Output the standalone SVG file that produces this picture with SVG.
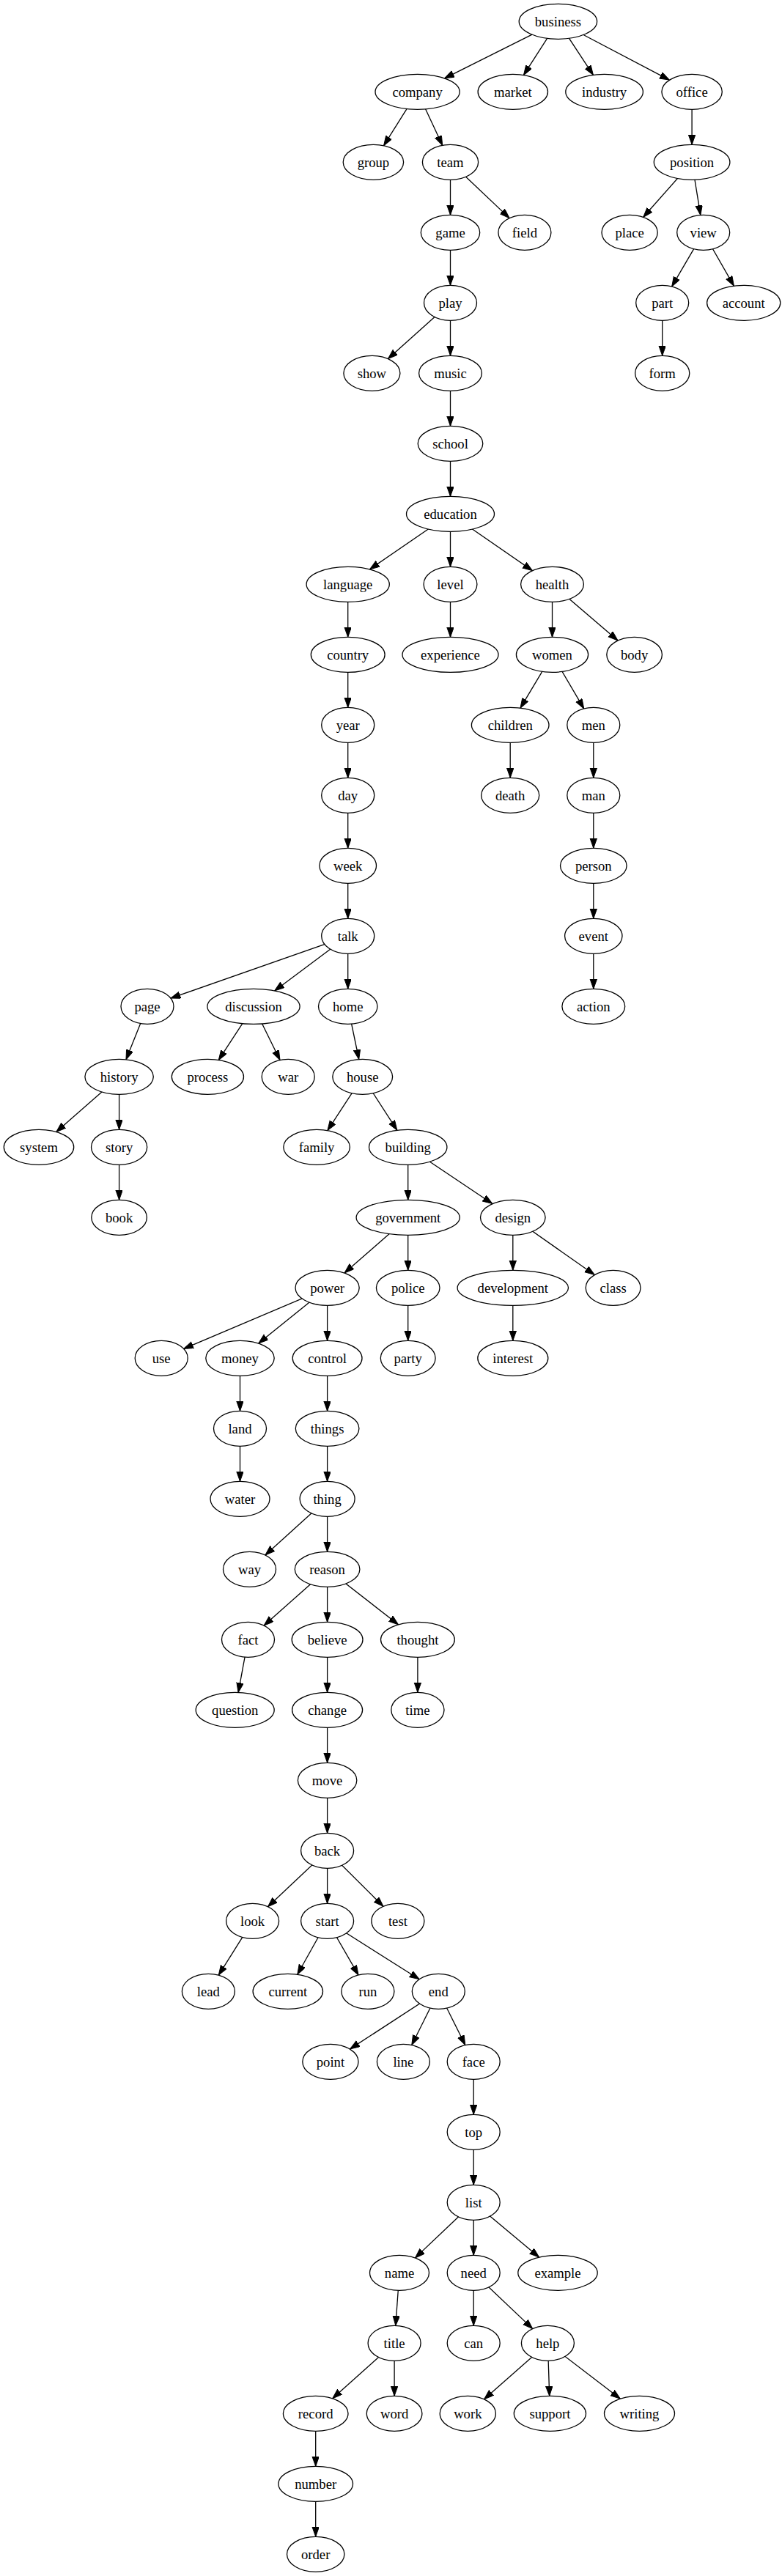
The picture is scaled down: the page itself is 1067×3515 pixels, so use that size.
<svg xmlns="http://www.w3.org/2000/svg" width="1067" height="3515" viewBox="0 0 1067 3515">
<style>
.n ellipse{fill:#fff;stroke:#000;stroke-width:1.3}
.n text{font-family:"Liberation Serif","Times New Roman",serif;font-size:18.67px;text-anchor:middle;fill:#000}
.e line{stroke:#000;stroke-width:1.3;fill:none;marker-end:url(#arr)}
</style>
<defs>
<marker id="arr" markerUnits="userSpaceOnUse" markerWidth="15" markerHeight="11" refX="13.3" refY="4.7" orient="auto">
<path d="M0,0 L13.3,4.7 L0,9.4 z" fill="#000" stroke="#000" stroke-width="1"/>
</marker>
</defs>
<rect width="1067" height="3515" fill="#fff"/>
<g id="edges" class="e">
<line x1="761.4" y1="29.3" x2="606.6" y2="106.8"/>
<line x1="761.4" y1="29.3" x2="714.5" y2="102.4"/>
<line x1="761.4" y1="29.3" x2="809.4" y2="102.3"/>
<line x1="761.4" y1="29.3" x2="913.3" y2="109.1"/>
<line x1="569.6" y1="125.3" x2="523.6" y2="198.7"/>
<line x1="569.6" y1="125.3" x2="603.7" y2="198.3"/>
<line x1="944.1" y1="125.3" x2="944.1" y2="197.3"/>
<line x1="614.5" y1="221.3" x2="614.5" y2="293.3"/>
<line x1="614.5" y1="221.3" x2="695.1" y2="297.6"/>
<line x1="944.1" y1="221.3" x2="877.7" y2="296.3"/>
<line x1="944.1" y1="221.3" x2="955.8" y2="293.4"/>
<line x1="614.5" y1="317.3" x2="614.5" y2="389.3"/>
<line x1="959.7" y1="317.3" x2="916.7" y2="390.9"/>
<line x1="959.7" y1="317.3" x2="1001.4" y2="390.1"/>
<line x1="614.5" y1="413.3" x2="529.5" y2="489.5"/>
<line x1="614.5" y1="413.3" x2="614.5" y2="485.3"/>
<line x1="903.7" y1="413.3" x2="903.7" y2="485.3"/>
<line x1="614.5" y1="509.3" x2="614.5" y2="581.3"/>
<line x1="614.5" y1="605.3" x2="614.5" y2="677.3"/>
<line x1="614.5" y1="701.3" x2="504.5" y2="776.8"/>
<line x1="614.5" y1="701.3" x2="614.5" y2="773.3"/>
<line x1="614.5" y1="701.3" x2="726.4" y2="778.6"/>
<line x1="474.7" y1="797.3" x2="474.7" y2="869.3"/>
<line x1="614.5" y1="797.3" x2="614.5" y2="869.3"/>
<line x1="753.5" y1="797.3" x2="753.5" y2="869.3"/>
<line x1="753.5" y1="797.3" x2="843.0" y2="873.9"/>
<line x1="474.7" y1="893.3" x2="474.7" y2="965.3"/>
<line x1="753.5" y1="893.3" x2="710.0" y2="966.1"/>
<line x1="753.5" y1="893.3" x2="796.7" y2="966.9"/>
<line x1="474.7" y1="989.3" x2="474.7" y2="1061.3"/>
<line x1="696.2" y1="989.3" x2="696.2" y2="1061.3"/>
<line x1="809.8" y1="989.3" x2="809.8" y2="1061.3"/>
<line x1="474.7" y1="1085.3" x2="474.7" y2="1157.3"/>
<line x1="809.8" y1="1085.3" x2="809.8" y2="1157.3"/>
<line x1="474.7" y1="1181.3" x2="474.7" y2="1253.3"/>
<line x1="809.8" y1="1181.3" x2="809.8" y2="1253.3"/>
<line x1="474.7" y1="1277.3" x2="233.0" y2="1362.1"/>
<line x1="474.7" y1="1277.3" x2="374.7" y2="1351.9"/>
<line x1="474.7" y1="1277.3" x2="474.7" y2="1349.3"/>
<line x1="809.8" y1="1277.3" x2="809.8" y2="1349.3"/>
<line x1="201" y1="1373.3" x2="172.0" y2="1445.8"/>
<line x1="346" y1="1373.3" x2="298.3" y2="1446.4"/>
<line x1="346" y1="1373.3" x2="382.0" y2="1446.5"/>
<line x1="474.7" y1="1373.3" x2="489.7" y2="1445.5"/>
<line x1="162.6" y1="1469.3" x2="76.8" y2="1544.4"/>
<line x1="162.6" y1="1469.3" x2="162.6" y2="1541.3"/>
<line x1="494.7" y1="1469.3" x2="446.9" y2="1542.6"/>
<line x1="494.7" y1="1469.3" x2="541.8" y2="1542.2"/>
<line x1="162.6" y1="1565.3" x2="162.6" y2="1637.3"/>
<line x1="556.7" y1="1565.3" x2="556.7" y2="1637.3"/>
<line x1="556.7" y1="1565.3" x2="671.8" y2="1642.5"/>
<line x1="556.7" y1="1661.3" x2="470.0" y2="1736.9"/>
<line x1="556.7" y1="1661.3" x2="556.7" y2="1733.3"/>
<line x1="699.8" y1="1661.3" x2="699.8" y2="1733.3"/>
<line x1="699.8" y1="1661.3" x2="811.2" y2="1739.5"/>
<line x1="446.6" y1="1757.3" x2="250.7" y2="1840.4"/>
<line x1="446.6" y1="1757.3" x2="352.7" y2="1833.0"/>
<line x1="446.6" y1="1757.3" x2="446.6" y2="1829.3"/>
<line x1="556.7" y1="1757.3" x2="556.7" y2="1829.3"/>
<line x1="699.8" y1="1757.3" x2="699.8" y2="1829.3"/>
<line x1="327.5" y1="1853.3" x2="327.5" y2="1925.3"/>
<line x1="446.6" y1="1853.3" x2="446.6" y2="1925.3"/>
<line x1="327.5" y1="1949.3" x2="327.5" y2="2021.3"/>
<line x1="446.6" y1="1949.3" x2="446.6" y2="2021.3"/>
<line x1="446.6" y1="2045.3" x2="361.9" y2="2121.9"/>
<line x1="446.6" y1="2045.3" x2="446.6" y2="2117.3"/>
<line x1="446.6" y1="2141.3" x2="360.2" y2="2218.1"/>
<line x1="446.6" y1="2141.3" x2="446.6" y2="2213.3"/>
<line x1="446.6" y1="2141.3" x2="543.5" y2="2216.8"/>
<line x1="338.5" y1="2237.3" x2="325.1" y2="2309.4"/>
<line x1="446.6" y1="2237.3" x2="446.6" y2="2309.3"/>
<line x1="569.9" y1="2237.3" x2="569.9" y2="2309.3"/>
<line x1="446.6" y1="2333.3" x2="446.6" y2="2405.3"/>
<line x1="446.6" y1="2429.3" x2="446.6" y2="2501.3"/>
<line x1="446.6" y1="2525.3" x2="365.5" y2="2601.7"/>
<line x1="446.6" y1="2525.3" x2="446.6" y2="2597.3"/>
<line x1="446.6" y1="2525.3" x2="522.9" y2="2601.3"/>
<line x1="344.6" y1="2621.3" x2="298.3" y2="2695.1"/>
<line x1="446.6" y1="2621.3" x2="405.8" y2="2694.2"/>
<line x1="446.6" y1="2621.3" x2="489.0" y2="2694.9"/>
<line x1="446.6" y1="2621.3" x2="572.1" y2="2700.7"/>
<line x1="598.3" y1="2717.3" x2="477.6" y2="2795.9"/>
<line x1="598.3" y1="2717.3" x2="561.8" y2="2790.5"/>
<line x1="598.3" y1="2717.3" x2="634.8" y2="2790.5"/>
<line x1="646.2" y1="2813.3" x2="646.2" y2="2885.3"/>
<line x1="646.2" y1="2909.3" x2="646.2" y2="2981.3"/>
<line x1="646.2" y1="3005.3" x2="566.5" y2="3080.9"/>
<line x1="646.2" y1="3005.3" x2="646.2" y2="3077.3"/>
<line x1="646.2" y1="3005.3" x2="735.6" y2="3080.0"/>
<line x1="545" y1="3101.3" x2="539.8" y2="3173.3"/>
<line x1="646.2" y1="3101.3" x2="646.2" y2="3173.3"/>
<line x1="646.2" y1="3101.3" x2="726.7" y2="3177.6"/>
<line x1="538.1" y1="3197.3" x2="453.7" y2="3272.7"/>
<line x1="538.1" y1="3197.3" x2="538.1" y2="3269.3"/>
<line x1="747.4" y1="3197.3" x2="660.6" y2="3273.7"/>
<line x1="747.4" y1="3197.3" x2="749.7" y2="3269.3"/>
<line x1="747.4" y1="3197.3" x2="846.2" y2="3273.1"/>
<line x1="430.7" y1="3293.3" x2="430.7" y2="3365.3"/>
<line x1="430.7" y1="3389.3" x2="430.7" y2="3461.3"/>
</g>
<g id="node_business" class="n"><ellipse cx="761.4" cy="29.3" rx="53.2" ry="24"/><text x="761.4" y="35.5">business</text></g>
<g id="node_company" class="n"><ellipse cx="569.6" cy="125.3" rx="57.6" ry="24"/><text x="569.6" y="131.5">company</text></g>
<g id="node_market" class="n"><ellipse cx="699.8" cy="125.3" rx="47.7" ry="24"/><text x="699.8" y="131.5">market</text></g>
<g id="node_industry" class="n"><ellipse cx="824.6" cy="125.3" rx="52.8" ry="24"/><text x="824.6" y="131.5">industry</text></g>
<g id="node_office" class="n"><ellipse cx="944.1" cy="125.3" rx="41.2" ry="24"/><text x="944.1" y="131.5">office</text></g>
<g id="node_group" class="n"><ellipse cx="509.4" cy="221.3" rx="41.2" ry="24"/><text x="509.4" y="227.5">group</text></g>
<g id="node_team" class="n"><ellipse cx="614.5" cy="221.3" rx="38.1" ry="24"/><text x="614.5" y="227.5">team</text></g>
<g id="node_position" class="n"><ellipse cx="944.1" cy="221.3" rx="51.8" ry="24"/><text x="944.1" y="227.5">position</text></g>
<g id="node_game" class="n"><ellipse cx="614.5" cy="317.3" rx="40.2" ry="24"/><text x="614.5" y="323.5">game</text></g>
<g id="node_field" class="n"><ellipse cx="715.9" cy="317.3" rx="36" ry="24"/><text x="715.9" y="323.5">field</text></g>
<g id="node_place" class="n"><ellipse cx="859.1" cy="317.3" rx="38.1" ry="24"/><text x="859.1" y="323.5">place</text></g>
<g id="node_view" class="n"><ellipse cx="959.7" cy="317.3" rx="36" ry="24"/><text x="959.7" y="323.5">view</text></g>
<g id="node_play" class="n"><ellipse cx="614.5" cy="413.3" rx="36" ry="24"/><text x="614.5" y="419.5">play</text></g>
<g id="node_part" class="n"><ellipse cx="903.7" cy="413.3" rx="36" ry="24"/><text x="903.7" y="419.5">part</text></g>
<g id="node_account" class="n"><ellipse cx="1014.7" cy="413.3" rx="50.1" ry="24"/><text x="1014.7" y="419.5">account</text></g>
<g id="node_show" class="n"><ellipse cx="507.4" cy="509.3" rx="38.5" ry="24"/><text x="507.4" y="515.5">show</text></g>
<g id="node_music" class="n"><ellipse cx="614.5" cy="509.3" rx="42.9" ry="24"/><text x="614.5" y="515.5">music</text></g>
<g id="node_form" class="n"><ellipse cx="903.7" cy="509.3" rx="37.1" ry="24"/><text x="903.7" y="515.5">form</text></g>
<g id="node_school" class="n"><ellipse cx="614.5" cy="605.3" rx="44.3" ry="24"/><text x="614.5" y="611.5">school</text></g>
<g id="node_education" class="n"><ellipse cx="614.5" cy="701.3" rx="60" ry="24"/><text x="614.5" y="707.5">education</text></g>
<g id="node_language" class="n"><ellipse cx="474.7" cy="797.3" rx="56.6" ry="24"/><text x="474.7" y="803.5">language</text></g>
<g id="node_level" class="n"><ellipse cx="614.5" cy="797.3" rx="36.4" ry="24"/><text x="614.5" y="803.5">level</text></g>
<g id="node_health" class="n"><ellipse cx="753.5" cy="797.3" rx="42.9" ry="24"/><text x="753.5" y="803.5">health</text></g>
<g id="node_country" class="n"><ellipse cx="474.7" cy="893.3" rx="50.4" ry="24"/><text x="474.7" y="899.5">country</text></g>
<g id="node_experience" class="n"><ellipse cx="614.5" cy="893.3" rx="65.5" ry="24"/><text x="614.5" y="899.5">experience</text></g>
<g id="node_women" class="n"><ellipse cx="753.5" cy="893.3" rx="49.1" ry="24"/><text x="753.5" y="899.5">women</text></g>
<g id="node_body" class="n"><ellipse cx="865.6" cy="893.3" rx="37.8" ry="24"/><text x="865.6" y="899.5">body</text></g>
<g id="node_year" class="n"><ellipse cx="474.7" cy="989.3" rx="36" ry="24"/><text x="474.7" y="995.5">year</text></g>
<g id="node_children" class="n"><ellipse cx="696.2" cy="989.3" rx="52.8" ry="24"/><text x="696.2" y="995.5">children</text></g>
<g id="node_men" class="n"><ellipse cx="809.8" cy="989.3" rx="36" ry="24"/><text x="809.8" y="995.5">men</text></g>
<g id="node_day" class="n"><ellipse cx="474.7" cy="1085.3" rx="36" ry="24"/><text x="474.7" y="1091.5">day</text></g>
<g id="node_death" class="n"><ellipse cx="696.2" cy="1085.3" rx="39.5" ry="24"/><text x="696.2" y="1091.5">death</text></g>
<g id="node_man" class="n"><ellipse cx="809.8" cy="1085.3" rx="36" ry="24"/><text x="809.8" y="1091.5">man</text></g>
<g id="node_week" class="n"><ellipse cx="474.7" cy="1181.3" rx="38.8" ry="24"/><text x="474.7" y="1187.5">week</text></g>
<g id="node_person" class="n"><ellipse cx="809.8" cy="1181.3" rx="45.3" ry="24"/><text x="809.8" y="1187.5">person</text></g>
<g id="node_talk" class="n"><ellipse cx="474.7" cy="1277.3" rx="36" ry="24"/><text x="474.7" y="1283.5">talk</text></g>
<g id="node_event" class="n"><ellipse cx="809.8" cy="1277.3" rx="39.2" ry="24"/><text x="809.8" y="1283.5">event</text></g>
<g id="node_page" class="n"><ellipse cx="201" cy="1373.3" rx="36" ry="24"/><text x="201" y="1379.5">page</text></g>
<g id="node_discussion" class="n"><ellipse cx="346" cy="1373.3" rx="63.1" ry="24"/><text x="346" y="1379.5">discussion</text></g>
<g id="node_home" class="n"><ellipse cx="474.7" cy="1373.3" rx="40.2" ry="24"/><text x="474.7" y="1379.5">home</text></g>
<g id="node_action" class="n"><ellipse cx="809.8" cy="1373.3" rx="42.9" ry="24"/><text x="809.8" y="1379.5">action</text></g>
<g id="node_history" class="n"><ellipse cx="162.6" cy="1469.3" rx="46.7" ry="24"/><text x="162.6" y="1475.5">history</text></g>
<g id="node_process" class="n"><ellipse cx="283.4" cy="1469.3" rx="49.1" ry="24"/><text x="283.4" y="1475.5">process</text></g>
<g id="node_war" class="n"><ellipse cx="393.2" cy="1469.3" rx="36" ry="24"/><text x="393.2" y="1475.5">war</text></g>
<g id="node_house" class="n"><ellipse cx="494.7" cy="1469.3" rx="40.9" ry="24"/><text x="494.7" y="1475.5">house</text></g>
<g id="node_system" class="n"><ellipse cx="53" cy="1565.3" rx="47.7" ry="24"/><text x="53" y="1571.5">system</text></g>
<g id="node_story" class="n"><ellipse cx="162.6" cy="1565.3" rx="38.1" ry="24"/><text x="162.6" y="1571.5">story</text></g>
<g id="node_family" class="n"><ellipse cx="432.1" cy="1565.3" rx="45.3" ry="24"/><text x="432.1" y="1571.5">family</text></g>
<g id="node_building" class="n"><ellipse cx="556.7" cy="1565.3" rx="53.2" ry="24"/><text x="556.7" y="1571.5">building</text></g>
<g id="node_book" class="n"><ellipse cx="162.6" cy="1661.3" rx="37.8" ry="24"/><text x="162.6" y="1667.5">book</text></g>
<g id="node_government" class="n"><ellipse cx="556.7" cy="1661.3" rx="70.6" ry="24"/><text x="556.7" y="1667.5">government</text></g>
<g id="node_design" class="n"><ellipse cx="699.8" cy="1661.3" rx="44.3" ry="24"/><text x="699.8" y="1667.5">design</text></g>
<g id="node_power" class="n"><ellipse cx="446.6" cy="1757.3" rx="43.6" ry="24"/><text x="446.6" y="1763.5">power</text></g>
<g id="node_police" class="n"><ellipse cx="556.7" cy="1757.3" rx="43.3" ry="24"/><text x="556.7" y="1763.5">police</text></g>
<g id="node_development" class="n"><ellipse cx="699.8" cy="1757.3" rx="75.7" ry="24"/><text x="699.8" y="1763.5">development</text></g>
<g id="node_class" class="n"><ellipse cx="836.6" cy="1757.3" rx="37.4" ry="24"/><text x="836.6" y="1763.5">class</text></g>
<g id="node_use" class="n"><ellipse cx="220.2" cy="1853.3" rx="36" ry="24"/><text x="220.2" y="1859.5">use</text></g>
<g id="node_money" class="n"><ellipse cx="327.5" cy="1853.3" rx="46.7" ry="24"/><text x="327.5" y="1859.5">money</text></g>
<g id="node_control" class="n"><ellipse cx="446.6" cy="1853.3" rx="47.4" ry="24"/><text x="446.6" y="1859.5">control</text></g>
<g id="node_party" class="n"><ellipse cx="556.7" cy="1853.3" rx="37.4" ry="24"/><text x="556.7" y="1859.5">party</text></g>
<g id="node_interest" class="n"><ellipse cx="699.8" cy="1853.3" rx="48" ry="24"/><text x="699.8" y="1859.5">interest</text></g>
<g id="node_land" class="n"><ellipse cx="327.5" cy="1949.3" rx="36" ry="24"/><text x="327.5" y="1955.5">land</text></g>
<g id="node_things" class="n"><ellipse cx="446.6" cy="1949.3" rx="43.3" ry="24"/><text x="446.6" y="1955.5">things</text></g>
<g id="node_water" class="n"><ellipse cx="327.5" cy="2045.3" rx="40.5" ry="24"/><text x="327.5" y="2051.5">water</text></g>
<g id="node_thing" class="n"><ellipse cx="446.6" cy="2045.3" rx="37.5" ry="24"/><text x="446.6" y="2051.5">thing</text></g>
<g id="node_way" class="n"><ellipse cx="340.5" cy="2141.3" rx="36" ry="24"/><text x="340.5" y="2147.5">way</text></g>
<g id="node_reason" class="n"><ellipse cx="446.6" cy="2141.3" rx="44.3" ry="24"/><text x="446.6" y="2147.5">reason</text></g>
<g id="node_fact" class="n"><ellipse cx="338.5" cy="2237.3" rx="36" ry="24"/><text x="338.5" y="2243.5">fact</text></g>
<g id="node_believe" class="n"><ellipse cx="446.6" cy="2237.3" rx="48.4" ry="24"/><text x="446.6" y="2243.5">believe</text></g>
<g id="node_thought" class="n"><ellipse cx="569.9" cy="2237.3" rx="50.4" ry="24"/><text x="569.9" y="2243.5">thought</text></g>
<g id="node_question" class="n"><ellipse cx="320.7" cy="2333.3" rx="53.5" ry="24"/><text x="320.7" y="2339.5">question</text></g>
<g id="node_change" class="n"><ellipse cx="446.6" cy="2333.3" rx="48" ry="24"/><text x="446.6" y="2339.5">change</text></g>
<g id="node_time" class="n"><ellipse cx="569.9" cy="2333.3" rx="36.1" ry="24"/><text x="569.9" y="2339.5">time</text></g>
<g id="node_move" class="n"><ellipse cx="446.6" cy="2429.3" rx="40.2" ry="24"/><text x="446.6" y="2435.5">move</text></g>
<g id="node_back" class="n"><ellipse cx="446.6" cy="2525.3" rx="36" ry="24"/><text x="446.6" y="2531.5">back</text></g>
<g id="node_look" class="n"><ellipse cx="344.6" cy="2621.3" rx="36" ry="24"/><text x="344.6" y="2627.5">look</text></g>
<g id="node_start" class="n"><ellipse cx="446.6" cy="2621.3" rx="36" ry="24"/><text x="446.6" y="2627.5">start</text></g>
<g id="node_test" class="n"><ellipse cx="542.9" cy="2621.3" rx="36" ry="24"/><text x="542.9" y="2627.5">test</text></g>
<g id="node_lead" class="n"><ellipse cx="284.4" cy="2717.3" rx="36" ry="24"/><text x="284.4" y="2723.5">lead</text></g>
<g id="node_current" class="n"><ellipse cx="392.8" cy="2717.3" rx="47.7" ry="24"/><text x="392.8" y="2723.5">current</text></g>
<g id="node_run" class="n"><ellipse cx="501.9" cy="2717.3" rx="36" ry="24"/><text x="501.9" y="2723.5">run</text></g>
<g id="node_end" class="n"><ellipse cx="598.3" cy="2717.3" rx="36" ry="24"/><text x="598.3" y="2723.5">end</text></g>
<g id="node_point" class="n"><ellipse cx="450.9" cy="2813.3" rx="38.1" ry="24"/><text x="450.9" y="2819.5">point</text></g>
<g id="node_line" class="n"><ellipse cx="550.4" cy="2813.3" rx="36" ry="24"/><text x="550.4" y="2819.5">line</text></g>
<g id="node_face" class="n"><ellipse cx="646.2" cy="2813.3" rx="36" ry="24"/><text x="646.2" y="2819.5">face</text></g>
<g id="node_top" class="n"><ellipse cx="646.2" cy="2909.3" rx="36" ry="24"/><text x="646.2" y="2915.5">top</text></g>
<g id="node_list" class="n"><ellipse cx="646.2" cy="3005.3" rx="36" ry="24"/><text x="646.2" y="3011.5">list</text></g>
<g id="node_name" class="n"><ellipse cx="545" cy="3101.3" rx="40.5" ry="24"/><text x="545" y="3107.5">name</text></g>
<g id="node_need" class="n"><ellipse cx="646.2" cy="3101.3" rx="36" ry="24"/><text x="646.2" y="3107.5">need</text></g>
<g id="node_example" class="n"><ellipse cx="761" cy="3101.3" rx="54.2" ry="24"/><text x="761" y="3107.5">example</text></g>
<g id="node_title" class="n"><ellipse cx="538.1" cy="3197.3" rx="36" ry="24"/><text x="538.1" y="3203.5">title</text></g>
<g id="node_can" class="n"><ellipse cx="646.2" cy="3197.3" rx="36" ry="24"/><text x="646.2" y="3203.5">can</text></g>
<g id="node_help" class="n"><ellipse cx="747.4" cy="3197.3" rx="36" ry="24"/><text x="747.4" y="3203.5">help</text></g>
<g id="node_record" class="n"><ellipse cx="430.7" cy="3293.3" rx="44.3" ry="24"/><text x="430.7" y="3299.5">record</text></g>
<g id="node_word" class="n"><ellipse cx="538.1" cy="3293.3" rx="37.8" ry="24"/><text x="538.1" y="3299.5">word</text></g>
<g id="node_work" class="n"><ellipse cx="638.3" cy="3293.3" rx="38.1" ry="24"/><text x="638.3" y="3299.5">work</text></g>
<g id="node_support" class="n"><ellipse cx="750.4" cy="3293.3" rx="49.1" ry="24"/><text x="750.4" y="3299.5">support</text></g>
<g id="node_writing" class="n"><ellipse cx="872.5" cy="3293.3" rx="48" ry="24"/><text x="872.5" y="3299.5">writing</text></g>
<g id="node_number" class="n"><ellipse cx="430.7" cy="3389.3" rx="50.8" ry="24"/><text x="430.7" y="3395.5">number</text></g>
<g id="node_order" class="n"><ellipse cx="430.7" cy="3485.3" rx="39.2" ry="24"/><text x="430.7" y="3491.5">order</text></g>
</svg>
